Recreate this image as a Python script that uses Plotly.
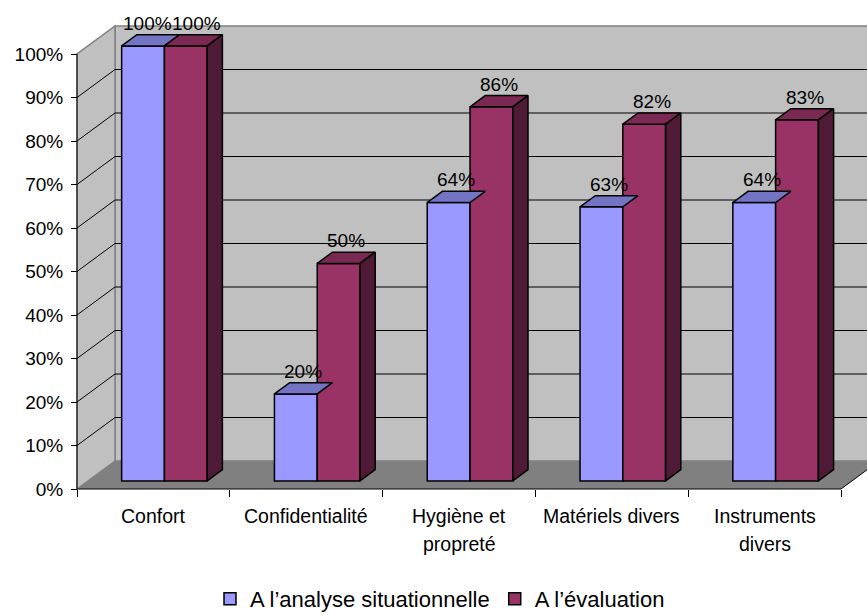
import plotly.graph_objects as go

# ---- data ----
categories = ["Confort", "Confidentialité", "Hygiène et<br>propreté",
              "Matériels divers", "Instruments<br>divers"]
analyse = [100, 20, 64, 63, 64]
evaluation = [100, 50, 86, 82, 83]
series_names = ["A l’analyse situationnelle", "A l’évaluation"]
y_ticks = list(range(0, 101, 10))
y_tick_labels = [f"{t}%" for t in y_ticks]

# ---- geometry of the pseudo-3D box ----
W, H = 867, 615
SX = 152.8          # pixels per category
SY = 4.35           # pixels per percent
ORIGIN_X, ORIGIN_Y = 77, 489   # front corner of the axes (pixels)
PLOT_L, PLOT_B = 67, 500       # plot area a little larger than the box

DX = 38 / SX        # full depth of the box, x component (category units)
DY = 28 / SY        # full depth of the box, y component (percent units)
BAR_FRONT = 0.29    # depth fraction of the bars' front plane
BAR_DEPTH = 0.40    # depth fraction covered by a bar
BAR_W = 0.28        # width of one bar (category units)

FX, FY = BAR_FRONT * DX, BAR_FRONT * DY
BX, BY = BAR_DEPTH * DX, BAR_DEPTH * DY
n = len(categories)

x_range = [(PLOT_L - ORIGIN_X) / SX, (W - ORIGIN_X) / SX]
y_range = [(ORIGIN_Y - PLOT_B) / SY, ORIGIN_Y / SY]

WALL = "#C0C0C0"
FLOOR = "#808080"
EDGE = "#808080"
BLUE, BLUE_TOP = "#9999FF", "#7474C4"
RED, RED_TOP, RED_SIDE = "#993366", "#7A2952", "#4F1A35"
FONT = "Liberation Sans, Arial, sans-serif"
LABEL_W = 49        # approximate pixel width of a "100%" label


def path(points):
    return "M " + " L ".join(f"{x},{y}" for x, y in points) + " Z"


shapes = []
# back wall
shapes.append(dict(type="path", layer="below", xref="x", yref="y",
                   path=path([(DX, DY), (n + DX, DY), (n + DX, 100 + DY), (DX, 100 + DY)]),
                   fillcolor=WALL, line=dict(color=EDGE, width=1.5)))
# left wall
shapes.append(dict(type="path", layer="below", xref="x", yref="y",
                   path=path([(0, 0), (DX, DY), (DX, 100 + DY), (0, 100)]),
                   fillcolor=WALL, line=dict(color=EDGE, width=1.5)))
# floor
shapes.append(dict(type="path", layer="below", xref="x", yref="y",
                   path=path([(0, 0), (n, 0), (n + DX, DY), (DX, DY)]),
                   fillcolor=FLOOR, line=dict(width=0)))
shapes.append(dict(type="line", layer="below", xref="x", yref="y",
                   x0=n, y0=0, x1=n + DX, y1=DY, line=dict(color="black", width=1)))
# gridlines on the back and left walls
for t in y_ticks[1:-1]:
    shapes.append(dict(type="line", layer="below", xref="x", yref="y",
                       x0=DX, y0=t + DY, x1=n + DX, y1=t + DY,
                       line=dict(color="black", width=1)))
    shapes.append(dict(type="line", layer="below", xref="x", yref="y",
                       x0=0, y0=t, x1=DX, y1=t + DY,
                       line=dict(color="black", width=1)))
# axis lines
shapes.append(dict(type="line", layer="below", xref="x", yref="y",
                   x0=0, y0=y_ticks[0], x1=0, y1=y_ticks[-1], line=dict(color="black", width=1)))
shapes.append(dict(type="line", layer="below", xref="x", yref="y",
                   x0=0, y0=0, x1=n, y1=0, line=dict(color="black", width=1)))

centers = [i + 0.5 + FX for i in range(n)]

fig = go.Figure()

# front faces
fig.add_trace(go.Bar(x=centers, y=analyse, base=FY, width=BAR_W, offset=-BAR_W,
                     name=series_names[0], marker=dict(color=BLUE, line=dict(color="black", width=1.5)),
                     hoverinfo="skip"))
fig.add_trace(go.Bar(x=centers, y=evaluation, base=FY, width=BAR_W, offset=0,
                     name=series_names[1], marker=dict(color=RED, line=dict(color="black", width=1.5)),
                     hoverinfo="skip"))


def faces(kind, values, left_off):
    xs, ys = [], []
    for c, v in zip(centers, values):
        x0 = c + left_off
        x1 = x0 + BAR_W
        top = v + FY
        if kind == "top":
            pts = [(x0, top), (x1, top), (x1 + BX, top + BY), (x0 + BX, top + BY)]
        else:
            pts = [(x1, FY), (x1, top), (x1 + BX, top + BY), (x1 + BX, FY + BY)]
        for px, py in pts + [pts[0]]:
            xs.append(px)
            ys.append(py)
        xs.append(None)
        ys.append(None)
    return xs, ys


for kind, vals, off, col in [("top", analyse, -BAR_W, BLUE_TOP),
                              ("top", evaluation, 0, RED_TOP),
                              ("side", evaluation, 0, RED_SIDE)]:
    xs, ys = faces(kind, vals, off)
    fig.add_trace(go.Scatter(x=xs, y=ys, mode="lines", fill="toself", fillcolor=col,
                             line=dict(color="black", width=1.5), showlegend=False,
                             hoverinfo="skip"))

annotations = []
# value labels above each bar's top face; a pair at the same height is pushed apart
for k, (c, a, e) in enumerate(zip(centers, analyse, evaluation)):
    gap_px = BAR_W * SX
    push = max(0.0, (LABEL_W - gap_px) / 2) if abs(a - e) < 4 else 0.0
    for v, off, sign in [(a, -BAR_W / 2, -1), (e, BAR_W / 2, 1)]:
        annotations.append(dict(x=c + off + BX / 2, y=v + FY + BY / 2, xref="x", yref="y",
                                text=f"{v}%", showarrow=False, yshift=17, yanchor="middle",
                                xshift=sign * push,
                                font=dict(family=FONT, size=19, color="black")))
# category labels
for i, cat in enumerate(categories):
    for j, line in enumerate(cat.split("<br>")):
        annotations.append(dict(x=i + 0.5, y=0, xref="x", yref="y", text=line,
                                showarrow=False, yanchor="middle", yshift=-27 - 28 * j,
                                font=dict(family=FONT, size=19.5, color="black")))

plot_w = W - PLOT_L
plot_h = PLOT_B
fig.update_layout(
    width=W, height=H,
    margin=dict(l=PLOT_L, r=0, t=0, b=H - PLOT_B, pad=0, autoexpand=False),
    paper_bgcolor="white", plot_bgcolor="white",
    barmode="overlay",
    shapes=shapes, annotations=annotations,
    font=dict(family=FONT, size=19, color="black"),
    xaxis=dict(range=x_range, tickvals=list(range(n + 1)), showticklabels=False,
               ticks="outside", ticklen=7, tickcolor="black", tickwidth=1,
               showgrid=False, zeroline=False, showline=False,
               anchor="free", position=(PLOT_B - ORIGIN_Y) / plot_h, fixedrange=True),
    yaxis=dict(range=y_range, tickvals=y_ticks, ticktext=y_tick_labels,
               ticks="outside", ticklen=6, tickcolor="black", tickwidth=1,
               ticklabelstandoff=4,
               showgrid=False, zeroline=False, showline=False,
               anchor="free", position=(ORIGIN_X - PLOT_L) / plot_w, fixedrange=True,
               tickfont=dict(family=FONT, size=19, color="black")),
    legend=dict(orientation="h", xref="container", yref="container",
                x=440 / W, xanchor="center",
                y=(H - 599) / H, yanchor="middle",
                font=dict(family=FONT, size=22, color="black"),
                bgcolor="rgba(0,0,0,0)"),
    showlegend=True,
)

fig.write_html("out.html")
